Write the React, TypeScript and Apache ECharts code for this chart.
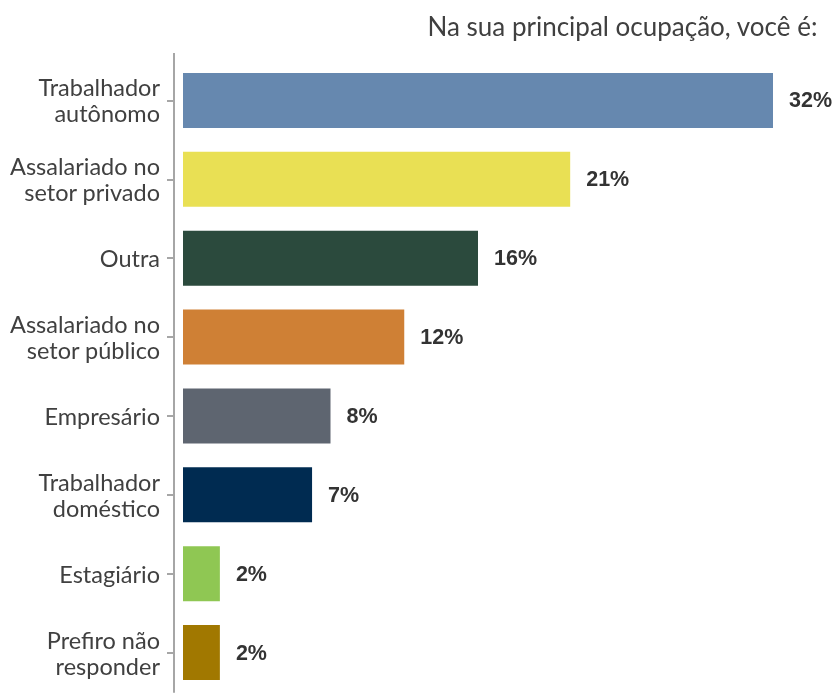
import React, { useEffect, useRef } from "react";
import * as echarts from "echarts";

const titleText = "Na sua principal ocupação, você é:";
const categories = [
  "Trabalhador\nautônomo",
  "Assalariado no\nsetor privado",
  "Outra",
  "Assalariado no\nsetor público",
  "Empresário",
  "Trabalhador\ndoméstico",
  "Estagiário",
  "Prefiro não\nresponder",
];
const values = [32, 21, 16, 12, 8, 7, 2, 2];
const colors = ["#6688AF", "#E9E054", "#2B4A3D", "#CF8035", "#5E6570", "#002B51", "#8FC753", "#A17800"];

export default function App() {
  const ref = useRef<HTMLDivElement>(null);
  useEffect(() => {
    document.body.style.margin = "0";
    const chart = echarts.init(ref.current!, null, { renderer: "svg" });
    chart.setOption({
      animation: false,
      title: {
        text: titleText,
        right: 12,
        top: 8,
        textStyle: { fontFamily: "Lato", fontSize: 26, fontWeight: "normal", color: "#404040" },
      },
      graphic: [
        {
          type: "line",
          shape: { x1: 174, y1: 53, x2: 174, y2: 62 },
          style: { stroke: "#A6A6A6", lineWidth: 2 },
        },
      ],
      grid: { left: 183, width: 590, top: 61, bottom: 1, containLabel: false },
      xAxis: { type: "value", min: 0, max: 32, show: false },
      yAxis: {
        type: "category",
        data: categories,
        inverse: true,
        offset: 9,
        axisLine: { show: true, onZero: false, lineStyle: { color: "#A6A6A6", width: 2 } },
        axisTick: { show: true, alignWithLabel: true, length: 7, lineStyle: { color: "#A6A6A6", width: 2 } },
        axisLabel: {
          margin: 14,
          fontFamily: "Lato",
          fontSize: 23.5,
          lineHeight: 26,
          color: "#404040",
          align: "right",
        },
      },
      series: [
        {
          type: "bar",
          data: values.map((v, i) => ({ value: v, itemStyle: { color: colors[i] } })),
          barWidth: 55,
          label: {
            show: true,
            position: "right",
            distance: 16,
            formatter: "{c}%",
            fontFamily: "Liberation Sans",
            fontWeight: "bold",
            fontSize: 21.5,
            color: "#333333",
          },
        },
      ],
    });
    return () => chart.dispose();
  }, []);
  return <div ref={ref} style={{ position: "fixed", left: 0, top: 0, width: 835, height: 693 }} />;
}
